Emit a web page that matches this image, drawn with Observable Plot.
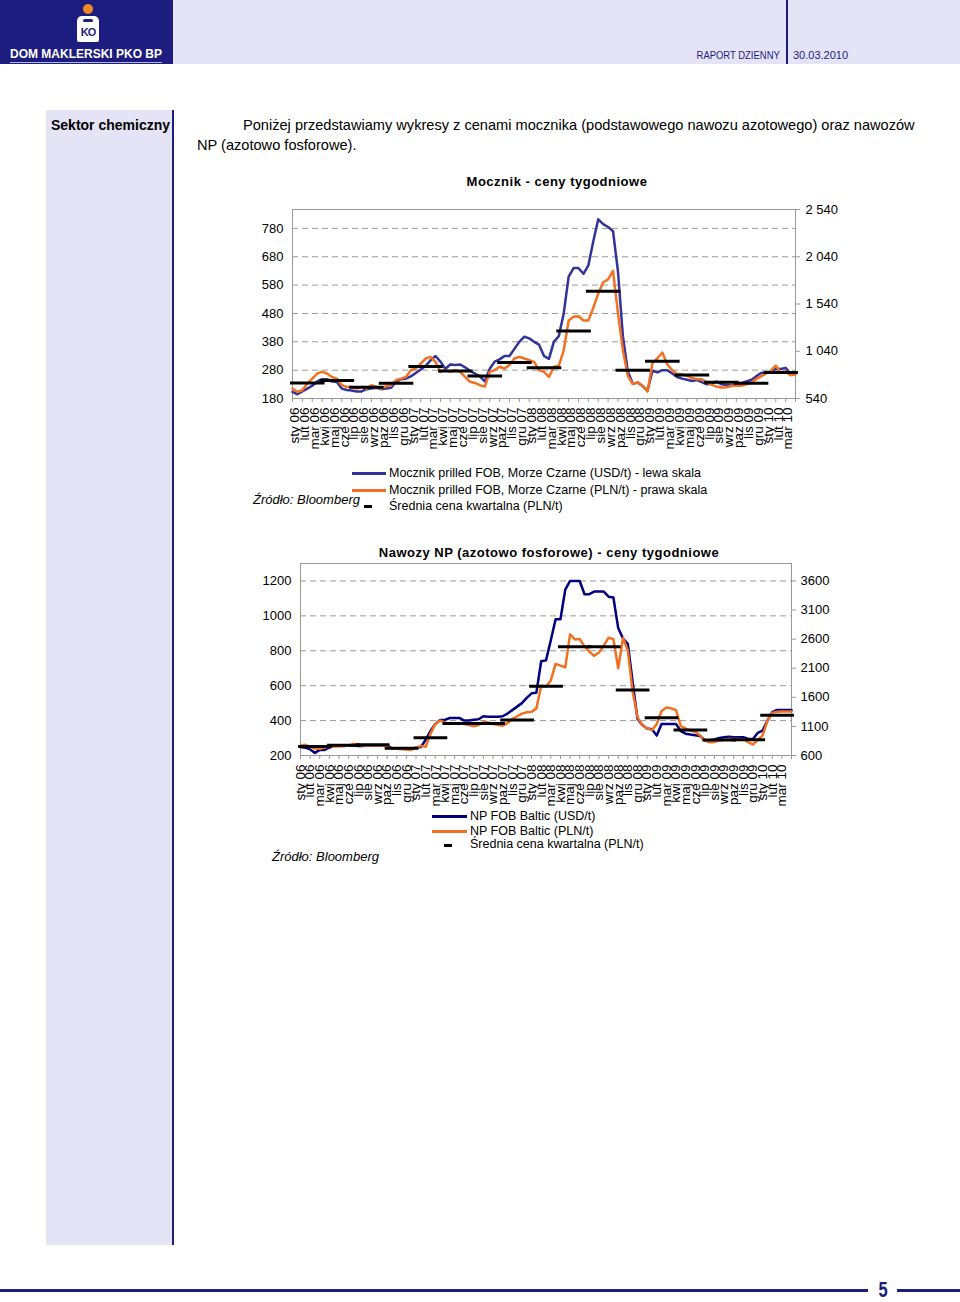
<!DOCTYPE html>
<html>
<head>
<meta charset="utf-8">
<script src="https://cdn.jsdelivr.net/npm/d3@7"></script>
<script src="https://cdn.jsdelivr.net/npm/@observablehq/plot@0.6"></script>
<style>
html, body { margin: 0; padding: 0; background: #fff; }
#page { position: relative; width: 960px; height: 1302px; overflow: hidden; font-family: "Liberation Sans", Arial, sans-serif; color: #000; }
.a { position: absolute; white-space: nowrap; }
.navy { background: #1d1d80; }
.lav { background: #e4e4f6; }
.lg { font-size: 12.5px; line-height: 16px; }
</style>
</head>
<body>
<div id="page">
  <!-- header -->
  <div class="a navy" style="left:0;top:0;width:173px;height:64px;"></div>
  <div class="a lav" style="left:173px;top:0;width:787px;height:64px;"></div>
  <div class="a navy" style="left:786px;top:0;width:2px;height:64px;"></div>
  <div class="a" style="left:83px;top:4px;width:10px;height:10px;border-radius:50%;background:#f08a24;"></div>
  <div class="a" style="left:77px;top:16px;width:22px;height:26px;border-radius:5px 5px 2px 2px;background:#fff;"></div>
  <div class="a navy" style="left:83px;top:19px;width:10px;height:3px;border-radius:2px;"></div>
  <div class="a" style="left:80px;top:25px;width:16px;font:bold 11px 'Liberation Sans';color:#1d1d80;text-align:center;line-height:14px;letter-spacing:-1px;">KO</div>
  <div class="a" style="left:10px;top:47px;font:bold 12px 'Liberation Sans';color:#fff;line-height:15px;border-bottom:1px solid #b8b8e6;">DOM MAKLERSKI PKO BP</div>
  <div class="a" style="left:630px;width:150px;top:48px;text-align:right;font-size:11px;line-height:14px;color:#1d1d80;"><span style="display:inline-block;transform:scaleX(0.86);transform-origin:right center;">RAPORT DZIENNY</span></div>
  <div class="a" style="left:793px;top:48px;font-size:11px;line-height:14px;color:#1d1d80;">30.03.2010</div>

  <!-- sidebar -->
  <div class="a lav" style="left:46px;top:110px;width:126px;height:1135px;"></div>
  <div class="a navy" style="left:172px;top:110px;width:2px;height:1135px;"></div>
  <div class="a" style="left:51px;top:116px;font:bold 14px 'Liberation Sans';line-height:18px;">Sektor chemiczny</div>

  <!-- paragraph -->
  <div class="a" style="left:243px;top:116px;font-size:14.6px;line-height:18px;">Poniżej przedstawiamy wykresy z cenami mocznika (podstawowego nawozu azotowego) oraz nawozów</div>
  <div class="a" style="left:197px;top:136px;font-size:14.6px;line-height:18px;">NP (azotowo fosforowe).</div>

  <!-- chart 1 -->
  <div class="a" style="left:357px;width:400px;top:174px;text-align:center;font:bold 13px 'Liberation Sans';letter-spacing:0.5px;line-height:16px;">Mocznik - ceny tygodniowe</div>
  <div id="chart1" class="a" style="left:240px;top:200px;width:620px;height:255px;"></div>
  <div class="a" style="left:352px;top:472px;width:34px;height:2.5px;background:#333399;"></div>
  <div class="a" style="left:352px;top:489px;width:34px;height:2.5px;background:#f37021;"></div>
  <div class="a" style="left:364px;top:505px;width:8px;height:3px;background:#000;"></div>
  <div class="a lg" style="left:389px;top:465px;">Mocznik prilled FOB, Morze Czarne (USD/t) - lewa skala</div>
  <div class="a lg" style="left:389px;top:482px;">Mocznik prilled FOB, Morze Czarne (PLN/t) - prawa skala</div>
  <div class="a lg" style="left:389px;top:498px;">Średnia cena kwartalna (PLN/t)</div>
  <div class="a" style="left:253px;top:492px;font-size:13px;font-style:italic;line-height:16px;">Źródło: Bloomberg</div>

  <!-- chart 2 -->
  <div class="a" style="left:349px;width:400px;top:545px;text-align:center;font:bold 13px 'Liberation Sans';letter-spacing:0.5px;line-height:16px;">Nawozy NP (azotowo fosforowe) - ceny tygodniowe</div>
  <div id="chart2" class="a" style="left:250px;top:555px;width:600px;height:260px;"></div>
  <div class="a" style="left:432px;top:815px;width:35px;height:2.5px;background:#000080;"></div>
  <div class="a" style="left:432px;top:830px;width:35px;height:2.5px;background:#f37021;"></div>
  <div class="a" style="left:444px;top:844px;width:8px;height:3px;background:#000;"></div>
  <div class="a lg" style="left:470px;top:808px;">NP FOB Baltic (USD/t)</div>
  <div class="a lg" style="left:470px;top:823px;">NP FOB Baltic (PLN/t)</div>
  <div class="a lg" style="left:470px;top:836px;">Średnia cena kwartalna (PLN/t)</div>
  <div class="a" style="left:272px;top:849px;font-size:13px;font-style:italic;line-height:16px;">Źródło: Bloomberg</div>

  <!-- footer -->
  <div class="a navy" style="left:0;top:1289px;width:868px;height:3px;"></div>
  <div class="a" style="left:870px;width:26px;top:1277px;text-align:center;font:bold 22px 'Liberation Sans';color:#1d1d80;line-height:26px;"><span style="display:inline-block;transform:scaleX(0.75);">5</span></div>
  <div class="a navy" style="left:897px;top:1289px;width:63px;height:3px;"></div>
</div>

<script>
// ---------- data ----------
const monthLabels = [
  "sty 06","lut 06","mar 06","kwi 06","maj 06","cze 06","lip 06","sie 06","wrz 06","paz 06","lis 06","gru 06",
  "sty 07","lut 07","mar 07","kwi 07","maj 07","cze 07","lip 07","sie 07","wrz 07","paz 07","lis 07","gru 07",
  "sty 08","lut 08","mar 08","kwi 08","maj 08","cze 08","lip 08","sie 08","wrz 08","paz 08","lis 08","gru 08",
  "sty 09","lut 09","mar 09","kwi 09","maj 09","cze 09","lip 09","sie 09","wrz 09","paz 09","lis 09","gru 09",
  "sty 10","lut 10","mar 10"
];
// samples every half month, starting at the beginning of sty 06
const STEP_MONTHS = 0.5;
// right (PLN) axis = 3 x left (USD) axis in both charts
const PLN_AXIS_RATIO = 3;

// Mocznik (urea) weekly prices, sampled semi-monthly
const ureaUSD = [
  203,195,205,215,225,240,248,248,240,238,
  215,210,208,205,205,213,215,218,213,215,
  218,240,248,250,258,270,282,295,315,330,
  310,285,300,298,300,290,278,268,258,240,
  285,310,318,330,330,355,380,398,392,380,
  370,330,320,380,400,480,610,640,640,620,
  650,735,812,795,785,770,628,400,275,232,
  236,224,208,278,272,280,280,268,256,250,
  246,242,245,238,230,232,240,230,228,226,
  228,234,240,245,258,270,270,275,285,284,
  288,266,270
];
const ureaPLN = [
  645,609,627,699,750,804,822,804,768,750,
  681,663,663,645,663,645,681,663,645,672,
  681,735,750,768,840,858,909,963,981,927,
  822,840,822,840,822,768,717,705,681,666,
  822,840,876,858,894,963,981,963,945,927,
  840,822,768,876,885,1050,1365,1404,1410,1365,
  1365,1500,1650,1770,1800,1890,1440,1050,780,693,
  711,675,615,915,966,1026,900,840,798,795,
  780,756,744,744,714,684,666,657,660,672,
  678,675,690,705,744,774,804,834,888,816,
  825,786,795
];
// quarterly averages, Q1 06 .. Q1 10 (PLN/t)
const ureaQuarterPLN = [704,731,660,702,879,831,777,921,866,1254,1676,840,933,789,711,702,816];
const ureaLeftTicks = [180,280,380,480,580,680,780];
const ureaRightTicks = [540,1040,1540,2040,2540];

// Nawozy NP weekly prices, sampled semi-monthly
const npUSD = [
  248,245,235,215,232,232,245,255,257,255,
  257,257,255,255,257,257,257,258,255,242,
  240,238,238,238,245,248,290,340,380,404,
  404,415,415,415,400,400,405,408,425,422,
  422,422,425,440,460,480,500,530,556,560,
  740,745,860,981,981,1150,1200,1200,1200,1124,
  1124,1139,1139,1139,1110,1105,930,870,840,620,
  410,375,355,350,314,381,381,381,381,340,
  325,320,316,312,288,288,292,300,305,308,
  305,305,305,295,295,330,343,400,448,461,
  461,461,461
];
const npPLN = [
  771,783,750,720,714,735,750,759,753,765,
  771,801,786,771,771,771,771,771,750,714,
  714,708,702,696,735,765,750,972,1143,1200,
  1170,1143,1155,1155,1143,1125,1104,1125,1176,1170,
  1140,1125,1113,1155,1230,1275,1320,1344,1350,1410,
  1800,1785,1890,2175,2145,2115,2680,2595,2604,2475,
  2385,2313,2370,2487,2625,2601,2100,2620,2400,1700,
  1260,1125,1065,1035,1140,1365,1425,1410,1380,1104,
  1065,1029,1008,945,855,828,834,858,870,885,
  885,885,876,828,786,870,945,1200,1335,1350,
  1356,1356,1356
];
const npQuarterPLN = [754,777,783,726,903,1150,1150,1212,1791,2468,2468,1725,1250,1040,868,870,1290];
const npLeftTicks = [200,400,600,800,1000,1200];
const npRightTicks = [600,1100,1600,2100,2600,3100,3600];

const ORANGE = "#f37021";

// ---------- chart builder ----------
function buildChart(cfg) {
  const usdRows = cfg.usd.map((v, i) => ({m: i * STEP_MONTHS, v}));
  const plnRows = cfg.pln.map((v, i) => ({m: i * STEP_MONTHS, v: v / PLN_AXIS_RATIO}));
  const qRows = cfg.quarters.map((v, q) => ({x1: q * 3 - 0.2, x2: q * 3 + 3.3, v: v / PLN_AXIS_RATIO}));
  const off = cfg.labelOffset;
  return Plot.plot({
    width: cfg.width,
    height: cfg.height,
    marginLeft: cfg.margin[0],
    marginRight: cfg.margin[1],
    marginTop: cfg.margin[2],
    marginBottom: cfg.margin[3],
    x: {domain: [0, 51]},
    y: {domain: cfg.yDomain},
    style: {fontFamily: "'Liberation Sans', Arial, sans-serif", background: "transparent", color: "#000", overflow: "visible"},
    marks: [
      Plot.ruleY(cfg.leftTicks.slice(1), {stroke: "#999", strokeDasharray: "6,4", strokeWidth: 1}),
      Plot.frame({stroke: "#999"}),
      Plot.axisY(cfg.leftTicks, {anchor: "left", tickSize: 0, tickPadding: 9, fontSize: 13, fill: "#000", label: null,
        tickFormat: d => String(d)}),
      Plot.axisY(cfg.rightTicks.map(t => t / PLN_AXIS_RATIO), {
        anchor: "right", tickSize: 4, tickPadding: cfg.rightPad, stroke: "#999", fontSize: 13, fill: "#000", label: null,
        tickFormat: d => cfg.rightFormat(Math.round(d * PLN_AXIS_RATIO))
      }),
      Plot.axisX(d3.range(52), {tickSize: 4, stroke: "#999", fill: "none", label: null}),
      Plot.axisX(monthLabels.map((_, i) => i + off), {
        tickSize: 0, tickPadding: 9, tickRotate: -90, fontSize: cfg.xFont, fill: "#000", label: null,
        tickFormat: d => monthLabels[Math.round(d - off)]
      }),
      Plot.line(usdRows, {x: "m", y: "v", stroke: cfg.blue, strokeWidth: 2.5, strokeLinejoin: "round"}),
      Plot.line(plnRows, {x: "m", y: "v", stroke: ORANGE, strokeWidth: 2.5, strokeLinejoin: "round"}),
      Plot.ruleY(qRows, {x1: "x1", x2: "x2", y: "v", stroke: "#000", strokeWidth: 3})
    ]
  });
}

const spaceThousands = n => d3.format(",")(n).replace(/,/g, " ");

document.getElementById("chart1").appendChild(buildChart({
  usd: ureaUSD, pln: ureaPLN, quarters: ureaQuarterPLN,
  leftTicks: ureaLeftTicks, rightTicks: ureaRightTicks,
  yDomain: [180, 2540 / PLN_AXIS_RATIO],
  blue: "#333399", labelOffset: 0.25, xFont: 13.5, rightPad: 6,
  rightFormat: spaceThousands,
  width: 620, height: 255, margin: [52, 65, 9, 57]
}));

document.getElementById("chart2").appendChild(buildChart({
  usd: npUSD, pln: npPLN, quarters: npQuarterPLN,
  leftTicks: npLeftTicks, rightTicks: npRightTicks,
  yDomain: [200, 1300],
  blue: "#000080", labelOffset: 0, xFont: 13.5, rightPad: 5,
  rightFormat: n => String(n),
  width: 600, height: 260, margin: [50, 59, 8, 60]
}));
</script>
</body>
</html>
